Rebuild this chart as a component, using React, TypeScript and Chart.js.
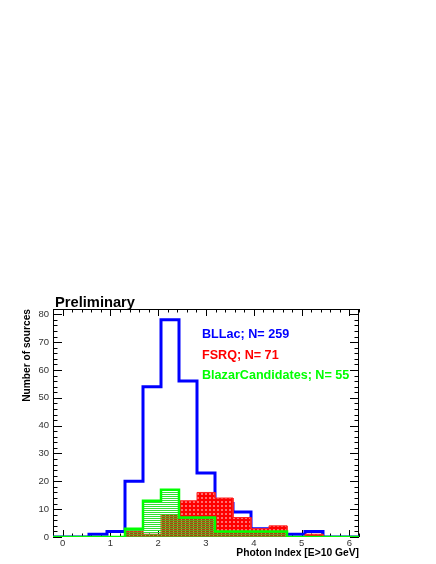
import React, { useEffect, useRef } from 'react';
import { Chart, registerables } from 'chart.js';

Chart.register(...registerables);

// ---- data ----
const xMin = -0.2;
const xMax = 6.2;
const yMax = 81.9;
const xTickValues = [0, 1, 2, 3, 4, 5, 6];
const yTickValues = [0, 10, 20, 30, 40, 50, 60, 70, 80];
const bllac = [0, 0, 1, 2, 20, 54, 78, 56, 23, 12, 9, 3, 0, 1, 2, 0, 0];
const fsrq = [0, 0, 0, 0, 2, 1, 8, 13, 16, 14, 7, 3, 4, 0, 1, 0, 0];
const candidates = [0, 0, 0, 0, 3, 13, 17, 7, 7, 2, 2, 2, 2, 0, 0, 0, 0];
const legendLabels = ['BLLac; N= 259', 'FSRQ; N= 71', 'BlazarCandidates; N= 55'];
const legendColors = ['#0000ff', '#ff0000', '#00ff00'];
const titleText = 'Preliminary';
const xTitle = 'Photon Index [E>10 GeV]';
const yTitle = 'Number of sources';

const FONT = "'Liberation Sans', Arial, Helvetica, sans-serif";

function stepPoints(values: number[]) {
  const n = values.length;
  const w = (xMax - xMin) / n;
  const pts: { x: number; y: number }[] = [{ x: xMin, y: 0 }];
  values.forEach((v, i) => {
    pts.push({ x: xMin + i * w, y: v });
    pts.push({ x: xMin + (i + 1) * w, y: v });
  });
  pts.push({ x: xMax, y: 0 });
  return pts;
}

function makePattern(w: number, h: number, draw: (c: CanvasRenderingContext2D) => void) {
  const cv = document.createElement('canvas');
  cv.width = w;
  cv.height = h;
  const c = cv.getContext('2d')!;
  draw(c);
  const ctx = document.createElement('canvas').getContext('2d')!;
  return ctx.createPattern(cv, 'repeat')!;
}

const decor = {
  id: 'decor',
  beforeDatasetsDraw(chart: any) {
    const { ctx, chartArea: a, scales } = chart;
    const xs = scales.x;
    const ys = scales.y;
    ctx.save();
    ctx.strokeStyle = '#000';
    ctx.lineWidth = 1;
    ctx.strokeRect(a.left + 0.5, a.top + 0.5, a.right - a.left - 1, a.bottom - a.top - 1);
    ctx.beginPath();
    // x ticks (bottom & top, inward)
    for (let i = 0; i <= 32; i++) {
      const v = xMin + i * 0.2;
      const major = Math.abs(v - Math.round(v)) < 1e-6;
      const len = major ? 7 : 3.5;
      const px = Math.round(xs.getPixelForValue(v)) + 0.5;
      ctx.moveTo(px, a.bottom);
      ctx.lineTo(px, a.bottom - len);
      ctx.moveTo(px, a.top);
      ctx.lineTo(px, a.top + len);
    }
    // y ticks (left & right, inward)
    for (let v = 0; v <= yMax; v += 2) {
      const major = v % 10 === 0;
      const len = major ? 9 : 4.5;
      const py = Math.round(ys.getPixelForValue(v)) + 0.5;
      ctx.moveTo(a.left, py);
      ctx.lineTo(a.left + len, py);
      ctx.moveTo(a.right, py);
      ctx.lineTo(a.right - len, py);
    }
    ctx.stroke();
    ctx.restore();
  },
  afterDraw(chart: any) {
    const { ctx, chartArea: a } = chart;
    ctx.save();
    ctx.textAlign = 'left';
    ctx.textBaseline = 'alphabetic';
    ctx.fillStyle = '#000';
    ctx.font = `bold 14.7px ${FONT}`;
    ctx.fillText(titleText, a.left + 2, a.top - 2.5);
    ctx.font = `bold 12.6px ${FONT}`;
    const baselines = [338.3, 359, 379.3];
    legendLabels.forEach((t, i) => {
      ctx.fillStyle = legendColors[i];
      ctx.fillText(t, 202, baselines[i]);
    });
    ctx.restore();
  },
};

export default function App() {
  const ref = useRef<HTMLCanvasElement | null>(null);

  useEffect(() => {
    document.body.style.margin = '0';
    const canvas = ref.current!;
    const redPat = makePattern(4, 4, (c) => {
      c.fillStyle = '#ff0000';
      c.fillRect(0, 0, 4, 4);
      c.fillStyle = '#ff6e6e';
      c.fillRect(1, 1, 2, 2);
    });
    const greenPat = makePattern(2, 2, (c) => {
      c.fillStyle = 'rgb(50,225,50)';
      c.fillRect(0, 0, 2, 1);
    });
    const overlapPat = makePattern(4, 2, (c) => {
      c.fillStyle = '#6a9c1e';
      c.fillRect(0, 0, 4, 1);
      c.fillStyle = '#a4480e';
      c.fillRect(0, 1, 4, 1);
      c.fillStyle = '#c89438';
      c.fillRect(1, 1, 1, 1);
    });
    const overlap = fsrq.map((v, i) => Math.min(v, candidates[i]));

    const chart = new Chart(canvas, {
      type: 'line',
      data: {
        datasets: [
          {
            data: stepPoints(bllac),
            borderColor: '#0000ff',
            borderWidth: 3,
            fill: false,
            order: 5,
          },
          {
            data: stepPoints(fsrq),
            borderColor: '#ff2020',
            borderWidth: 1,
            backgroundColor: redPat as any,
            fill: 'origin',
            order: 4,
          },
          {
            data: stepPoints(candidates),
            borderWidth: 0,
            borderColor: 'rgba(0,0,0,0)',
            backgroundColor: greenPat as any,
            fill: 'origin',
            order: 3,
          },
          {
            data: stepPoints(overlap),
            borderWidth: 0,
            borderColor: 'rgba(0,0,0,0)',
            backgroundColor: overlapPat as any,
            fill: 'origin',
            order: 2,
          },
          {
            data: stepPoints(candidates),
            borderColor: '#00ff00',
            borderWidth: 2.5,
            fill: false,
            order: 1,
          },
        ] as any,
      },
      options: {
        animation: false,
        responsive: false,
        devicePixelRatio: 1,
        events: [],
        elements: { point: { radius: 0 }, line: { tension: 0, borderJoinStyle: 'miter', borderCapStyle: 'butt' } },
        layout: { padding: { left: 0, right: 77, top: 309, bottom: 0 } },
        plugins: { legend: { display: false }, tooltip: { enabled: false }, title: { display: false } },
        scales: {
          x: {
            type: 'linear',
            min: xMin,
            max: xMax,
            grid: { display: false, drawTicks: false },
            border: { display: false },
            afterFit: (s: any) => { s.height = 27; },
            afterBuildTicks: (s: any) => { s.ticks = xTickValues.map((value) => ({ value })); },
            ticks: { font: { family: FONT, size: 9.5 }, color: '#333', padding: 1, maxRotation: 0 },
            title: {
              display: true,
              text: xTitle,
              align: 'end',
              color: '#000',
              font: { family: FONT, size: 10.3, weight: 'bold' },
              padding: { top: 0, bottom: 5 },
            },
          },
          y: {
            type: 'linear',
            min: 0,
            max: yMax,
            grid: { display: false, drawTicks: false },
            border: { display: false },
            afterFit: (s: any) => { s.width = 53; },
            afterBuildTicks: (s: any) => { s.ticks = yTickValues.map((value) => ({ value })); },
            ticks: { font: { family: FONT, size: 9.5 }, color: '#333', padding: 4 },
            title: {
              display: true,
              text: yTitle,
              align: 'end',
              color: '#000',
              font: { family: FONT, size: 10.2, weight: 'bold' },
              padding: { top: 21, bottom: 0 },
            },
          },
        },
      } as any,
      plugins: [decor],
    });
    return () => chart.destroy();
  }, []);

  return (
    <div style={{ position: 'absolute', left: 0, top: 0, width: 436, height: 564 }}>
      <canvas ref={ref} width={436} height={564} style={{ display: 'block', width: 436, height: 564 }} />
    </div>
  );
}
